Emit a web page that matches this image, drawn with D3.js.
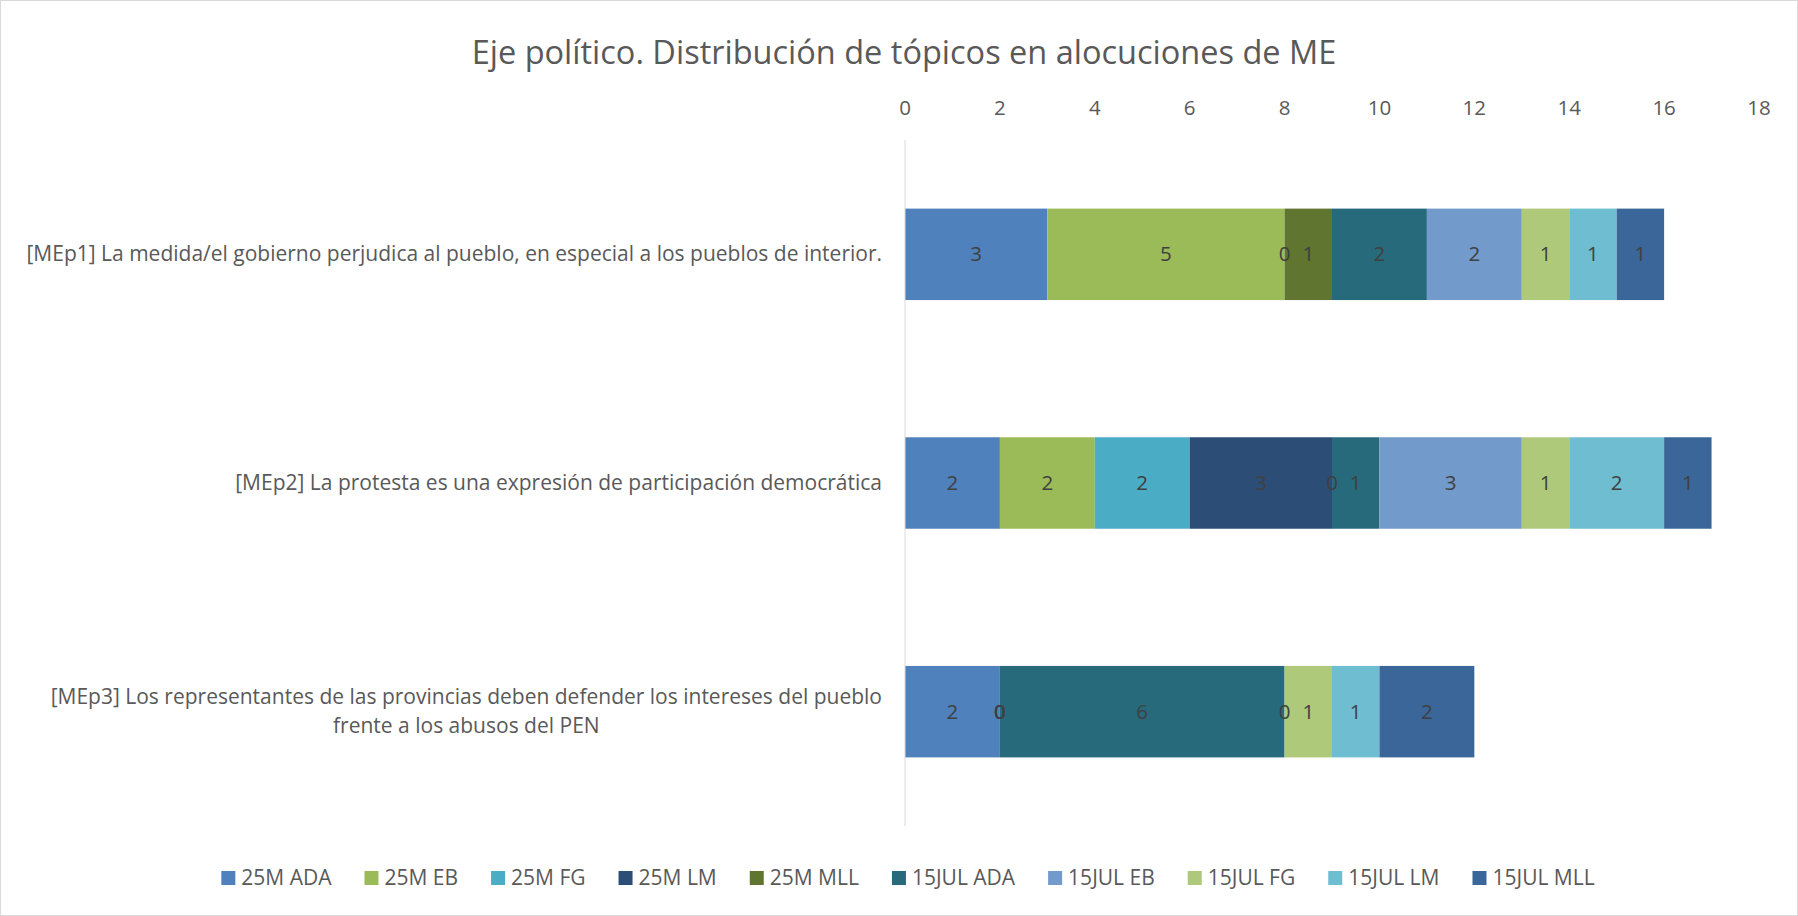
<!DOCTYPE html>
<html lang="es">
<head>
<meta charset="utf-8">
<title>Eje político</title>
<script src="https://d3js.org/d3.v7.min.js"></script>
<style>
  body { margin: 0; background: #fff; }
  svg text { font-family: "Open Sans", "Noto Sans", sans-serif; fill: #595959; }
</style>
</head>
<body>
<script>
// data
var categories = [
  "[MEp1] La medida/el gobierno perjudica al pueblo, en especial a los pueblos de interior.",
  "[MEp2] La protesta es una expresión de participación democrática",
  "[MEp3] Los representantes de las provincias deben defender los intereses del pueblo|frente a los abusos del PEN"
];
var seriesNames = ["25M ADA", "25M EB", "25M FG", "25M LM", "25M MLL",
                   "15JUL ADA", "15JUL EB", "15JUL FG", "15JUL LM", "15JUL MLL"];
var seriesColors = ["#4f81bd", "#9bbb59", "#4bacc6", "#2c4d75", "#5f7530",
                    "#276a7c", "#729aca", "#afc97a", "#6fbdd1", "#3a6699"];
// one array per category, in series order (null = no value)
var mep1 = [3, 5, null, 0, 1, 2, 2, 1, 1, 1];
var mep2 = [2, 2, 2, 3, 0, 1, 3, 1, 2, 1];
var mep3 = [2, 0, 0, 0, 0, 6, 0, 1, 1, 2];
var rows = [mep1, mep2, mep3];
var xTicks = [0, 2, 4, 6, 8, 10, 12, 14, 16, 18];

var width = 1798, height = 916;
var svg = d3.select("body").append("svg")
  .attr("width", width).attr("height", height);

svg.append("rect")
  .attr("x", 0.5).attr("y", 0.5)
  .attr("width", width - 1).attr("height", height - 1)
  .attr("fill", "#fff").attr("stroke", "#d9d9d9");

svg.append("text")
  .attr("x", 904).attr("y", 64)
  .attr("text-anchor", "middle")
  .style("font-size", "32.5px")
  .text("Eje político. Distribución de tópicos en alocuciones de ME");

var x = d3.scaleLinear().domain([0, 18]).range([905, 1759]);
var y = d3.scaleBand().domain(d3.range(categories.length)).range([140, 826]).paddingInner(0.6).paddingOuter(0.3);

// top axis labels
svg.selectAll(".tick-label")
  .data(xTicks).enter().append("text")
  .attr("class", "tick-label")
  .attr("x", function(d) { return x(d); })
  .attr("y", 115)
  .attr("text-anchor", "middle")
  .style("font-size", "20.5px")
  .text(function(d) { return d; });

// build table for stacking
var table = rows.map(function(r, i) {
  var o = { cat: i };
  seriesNames.forEach(function(s, j) { o[s] = r[j]; });
  return o;
});
var stack = d3.stack().keys(seriesNames)
  .value(function(d, k) { return d[k] == null ? 0 : d[k]; });
var stacked = stack(table);

var groups = svg.selectAll(".series")
  .data(stacked).enter().append("g")
  .attr("fill", function(d, i) { return seriesColors[i]; });

groups.selectAll("rect")
  .data(function(d) { return d; })
  .enter().append("rect")
  .attr("x", function(d) { return x(d[0]); })
  .attr("y", function(d) { return y(d.data.cat); })
  .attr("width", function(d) { return x(d[1]) - x(d[0]); })
  .attr("height", y.bandwidth());

// data labels
stacked.forEach(function(s) {
  svg.append("g").selectAll("text")
    .data(s.filter(function(d) { return d.data[s.key] != null; }))
    .enter().append("text")
    .attr("x", function(d) { return x((d[0] + d[1]) / 2); })
    .attr("y", function(d) { return y(d.data.cat) + y.bandwidth() / 2 + 7; })
    .attr("text-anchor", "middle")
    .style("font-size", "20.5px")
    .style("fill", "#404040")
    .text(function(d) { return d.data[s.key]; });
});

// vertical axis line
svg.append("line")
  .attr("x1", x(0)).attr("x2", x(0))
  .attr("y1", 140).attr("y2", 826)
  .attr("stroke", "#d9d9d9");

// category labels
categories.forEach(function(c, i) {
  var lines = c.split("|");
  var cy = y(i) + y.bandwidth() / 2;
  var t = svg.append("text")
    .attr("text-anchor", "middle")
    .style("font-size", "21px");
  var lh = 29;
  lines.forEach(function(l, k) {
    t.append("tspan")
      .attr("y", cy + 7 + (k - (lines.length - 1) / 2) * lh)
      .text(l);
  });
  // right align block at axis label edge, lines centered within it
  var w = d3.max(t.selectAll("tspan").nodes(), function(n) { return n.getComputedTextLength(); });
  t.selectAll("tspan").attr("x", 882 - w / 2);
});

// legend
var legend = svg.append("g");
var items = legend.selectAll("g").data(seriesNames).enter().append("g");
items.append("rect")
  .attr("width", 14).attr("height", 14)
  .attr("y", 871)
  .attr("fill", function(d, i) { return seriesColors[i]; });
items.append("text")
  .attr("x", 20).attr("y", 885)
  .style("font-size", "21px")
  .text(function(d) { return d; });
var gap = 33;
var pos = 0;
items.each(function() {
  var w = d3.select(this).select("text").node().getComputedTextLength();
  d3.select(this).attr("data-x", pos);
  pos += 20 + w + gap;
});
var total = pos - gap;
var start = 908 - total / 2;
items.attr("transform", function() { return "translate(" + (start + (+d3.select(this).attr("data-x"))) + ",0)"; });
</script>
</body>
</html>
